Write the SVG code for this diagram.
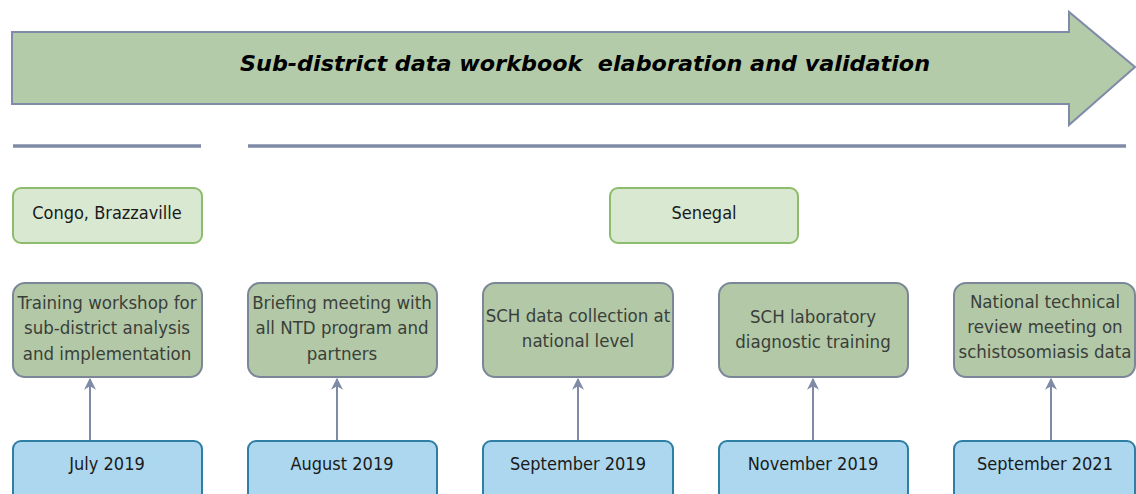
<svg xmlns="http://www.w3.org/2000/svg" width="1136" height="494" viewBox="0 0 1136 494">
<defs>
<style>
.country{fill:#d8e8d1;stroke:#8dbd6c;stroke-width:2}
.task{fill:#b3c8a7;stroke:#7b8798;stroke-width:2}
.date{fill:#acd7ee;stroke:#2f7ea3;stroke-width:2}
.t{font-family:"DejaVu Sans Condensed","DejaVu Sans",sans-serif;font-size:18px;text-anchor:middle;fill:#1a1a1a}
.tt{font-family:"DejaVu Sans Condensed","DejaVu Sans",sans-serif;font-size:18.5px;text-anchor:middle;fill:#3a3f3a}
.sep{stroke:#7e8aa6;stroke-width:3.5}
.conn{stroke:#7e8aa6;stroke-width:2;fill:none;marker-end:url(#ah)}
</style>
<marker id="ah" viewBox="0 0 10 10" refX="9" refY="5" markerWidth="6" markerHeight="6" orient="auto"><path d="M0,0 L10,5 L0,10 L3,5 z" fill="#7e8aa6"/></marker>
</defs>
<rect width="1136" height="494" fill="#ffffff"/>
<g id="banner">
<path d="M12,32 L1069,32 L1069,12 L1135,67 L1069,125 L1069,104 L12,104 Z" fill="#b3cba9" stroke="#7f8ba8" stroke-width="2"/>
<text x="585" y="71" style="font-family:'DejaVu Sans',sans-serif;font-size:22px;font-weight:bold;font-style:italic;fill:#000" text-anchor="middle" textLength="690" lengthAdjust="spacingAndGlyphs" xml:space="preserve">Sub-district data workbook  elaboration and validation</text>
</g>
<g id="separators">
<line class="sep" x1="13" y1="146" x2="201" y2="146"/>
<line class="sep" x1="248" y1="146" x2="1126" y2="146"/>
</g>
<g id="congo"><rect class="country" x="13" y="188" width="189" height="55" rx="8"/><text class="t" x="107" y="219">Congo, Brazzaville</text></g>
<g id="senegal"><rect class="country" x="610" y="188" width="188" height="55" rx="8"/><text class="t" x="704" y="219">Senegal</text></g>
<g id="task1"><rect class="task" x="13" y="283" width="189" height="94" rx="12"/>
<text class="tt" x="107" y="309">Training workshop for</text><text class="tt" x="107" y="334">sub-district analysis</text><text class="tt" x="107" y="360">and implementation</text></g>
<g id="task2"><rect class="task" x="248" y="283" width="189" height="94" rx="12"/>
<text class="tt" x="342" y="309">Briefing meeting with</text><text class="tt" x="342" y="334">all NTD program and</text><text class="tt" x="342" y="360">partners</text></g>
<g id="task3"><rect class="task" x="483" y="283" width="190" height="94" rx="12"/>
<text class="tt" x="578" y="322">SCH data collection at</text><text class="tt" x="578" y="347">national level</text></g>
<g id="task4"><rect class="task" x="719" y="283" width="189" height="94" rx="12"/>
<text class="tt" x="813" y="323">SCH laboratory</text><text class="tt" x="813" y="348">diagnostic training</text></g>
<g id="task5"><rect class="task" x="954" y="283" width="181" height="94" rx="12"/>
<text class="tt" x="1045" y="308">National technical</text><text class="tt" x="1045" y="333">review meeting on</text><text class="tt" x="1045" y="358">schistosomiasis data</text></g>
<g id="date1"><rect class="date" x="13" y="441" width="189" height="60" rx="8"/><text class="t" x="107" y="470">July 2019</text></g>
<g id="date2"><rect class="date" x="248" y="441" width="189" height="60" rx="8"/><text class="t" x="342" y="470">August 2019</text></g>
<g id="date3"><rect class="date" x="483" y="441" width="190" height="60" rx="8"/><text class="t" x="578" y="470">September 2019</text></g>
<g id="date4"><rect class="date" x="719" y="441" width="189" height="60" rx="8"/><text class="t" x="813" y="470">November 2019</text></g>
<g id="date5"><rect class="date" x="954" y="441" width="181" height="60" rx="8"/><text class="t" x="1045" y="470">September 2021</text></g>
<g id="connectors">
<line class="conn" x1="90" y1="440" x2="90" y2="379"/>
<line class="conn" x1="337" y1="440" x2="337" y2="379"/>
<line class="conn" x1="578" y1="440" x2="578" y2="379"/>
<line class="conn" x1="813" y1="440" x2="813" y2="379"/>
<line class="conn" x1="1051" y1="440" x2="1051" y2="379"/>
</g>
</svg>
